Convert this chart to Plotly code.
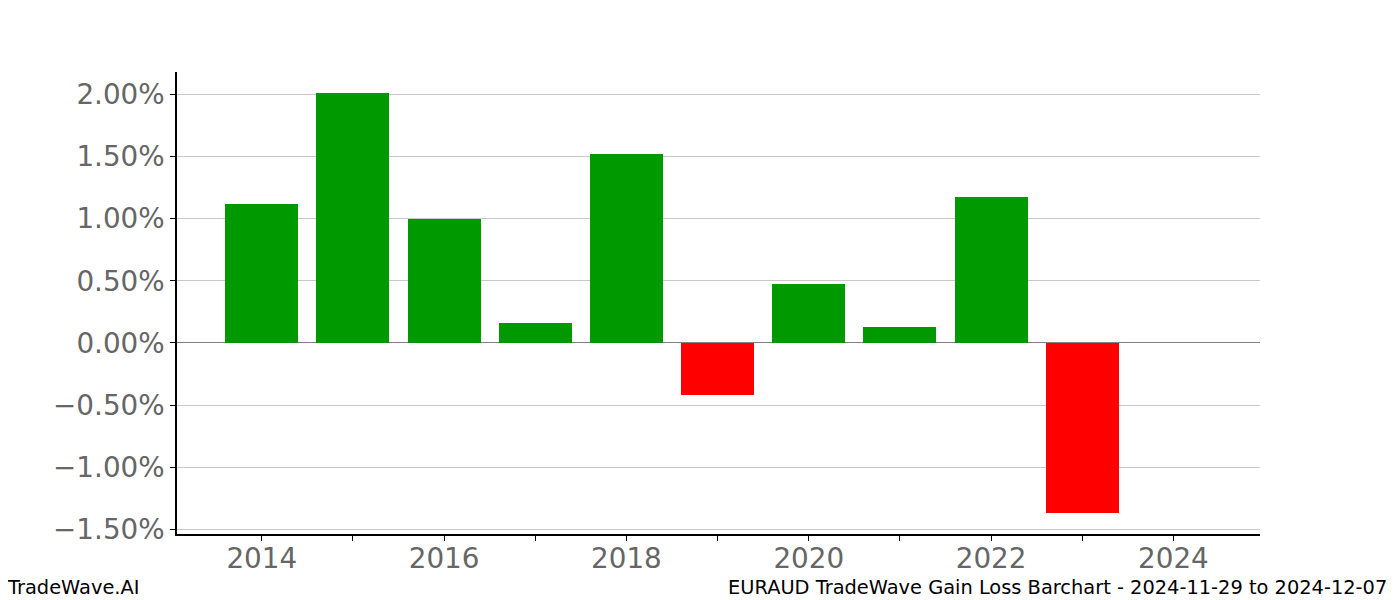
import plotly.graph_objects as go

years = [2014, 2015, 2016, 2017, 2018, 2019, 2020, 2021, 2022, 2023]
gains = [1.116, 2.010, 0.996, 0.161, 1.518, -0.418, 0.474, 0.129, 1.173, -1.365]
colors = ["#009900" if g >= 0 else "#ff0000" for g in gains]

y_ticks = [-1.5, -1.0, -0.5, 0.0, 0.5, 1.0, 1.5, 2.0]
y_labels = [("\u2212" if v < 0 else "") + f"{abs(v):.2f}%" for v in y_ticks]
x_ticks = list(range(2014, 2025))
x_labels = [str(y) if y % 2 == 0 else "" for y in x_ticks]

fig = go.Figure()
fig.add_trace(go.Bar(x=years, y=gains, width=0.8, marker=dict(color=colors, line=dict(width=0)),
                     hoverinfo="x+y"))

# page body has an 8px margin; plot area placed to match reference page coords
fig.update_layout(
    width=1400, height=600,
    margin=dict(l=169, r=148, t=64, b=74),
    plot_bgcolor="white", paper_bgcolor="white",
    font=dict(family="DejaVu Sans", color="#666666"),
    showlegend=False,
    bargap=0,
)
fig.update_xaxes(
    range=[2013.07, 2024.95], tickmode="array", tickvals=x_ticks, ticktext=x_labels,
    ticks="outside", ticklen=5, tickwidth=1, tickcolor="black",
    showline=True, linecolor="black", linewidth=1.5, showgrid=False, zeroline=False,
    tickfont=dict(size=27.8, color="#666666"), ticklabelstandoff=-6,
)
fig.update_yaxes(
    range=[-1.537, 2.18], tickmode="array", tickvals=y_ticks, ticktext=y_labels,
    ticks="outside", ticklen=5, tickwidth=1, tickcolor="black",
    showline=True, linecolor="black", linewidth=1.5,
    showgrid=True, gridcolor="#c8c8c8", gridwidth=1,
    zeroline=True, zerolinecolor="#808080", zerolinewidth=1,
    tickfont=dict(size=27.8, color="#666666"),
)
fig.add_annotation(text="TradeWave.AI", xref="paper", yref="paper", x=0, y=0,
                   xanchor="left", yanchor="middle", showarrow=False,
                   font=dict(size=19.4, color="black", family="DejaVu Sans"),
                   xshift=-172, yshift=-53)
fig.add_annotation(text="EURAUD TradeWave Gain Loss Barchart - 2024-11-29 to 2024-12-07",
                   xref="paper", yref="paper", x=1, y=0, xanchor="right", yanchor="middle",
                   showarrow=False, font=dict(size=19.4, color="black", family="DejaVu Sans"),
                   xshift=129, yshift=-53)

fig.write_html("out.html")
